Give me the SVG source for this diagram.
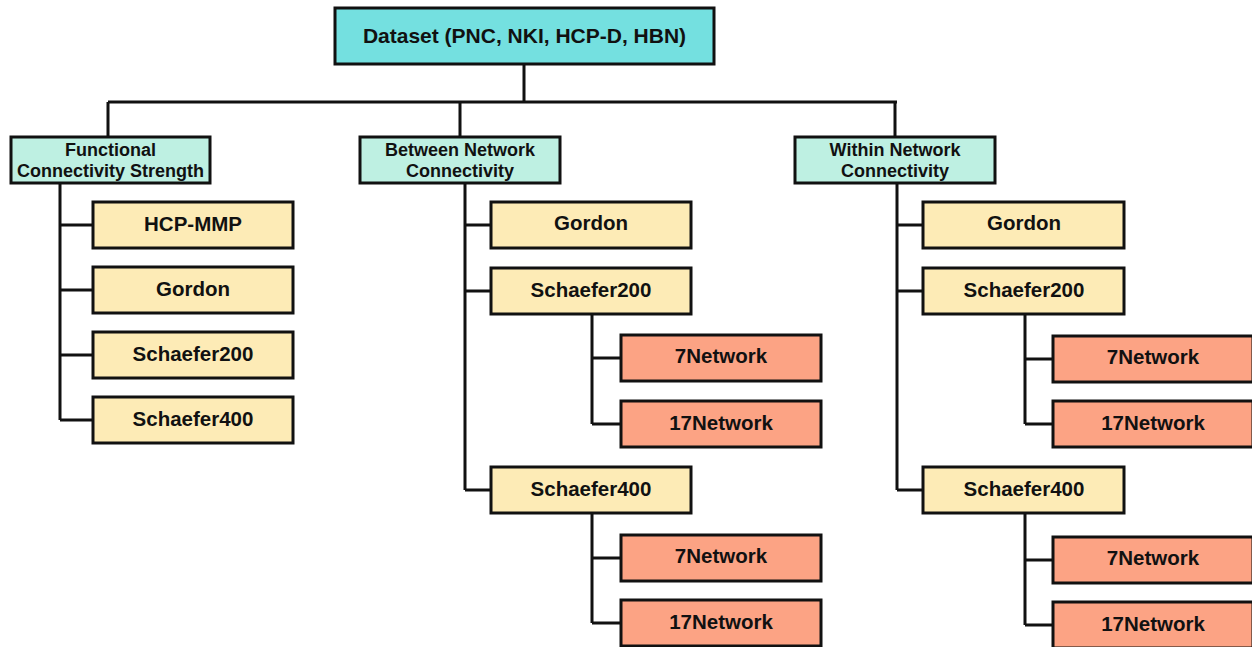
<svg xmlns="http://www.w3.org/2000/svg" width="1252" height="647" viewBox="0 0 1252 647">
<style>
.box{stroke:#111;stroke-width:3}
.top{fill:#74E0E0}
.l1{fill:#BEF0E2}
.l2{fill:#FDEBB6}
.l3{fill:#FCA384}
text{font-family:"Liberation Sans",Arial,sans-serif;font-weight:bold;fill:#111;text-anchor:middle}
.t0{font-size:21px}
.t1{font-size:18px}
.t2{font-size:20.5px}
.conn{fill:none;stroke:#111;stroke-width:3}
</style>
<rect width="1252" height="647" fill="#fff"/>
<g id="connectors" class="conn">
<path d="M524 64V102M108 102H897M108 102V137M460 102V137M895 102V137"/>
<path d="M60 183V420M60 225H93M60 290H93M60 355H93M60 420H93"/>
<path d="M465 183V490M465 225H491M465 291H491M465 490H491"/>
<path d="M592 314V424M592 358H621M592 424H621M592 514V623M592 558H621M592 623H621"/>
<path d="M897 183V490M897 225H923M897 291H923M897 490H923"/>
<path d="M1025 315V424M1025 359H1053M1025 424H1053M1025 514V625M1025 560H1053M1025 625H1053"/>
</g>
<g id="dataset"><rect class="box top" x="335" y="8" width="379" height="56"/><text class="t0" x="524.5" y="43">Dataset (PNC, NKI, HCP-D, HBN)</text></g>
<g id="fcs"><rect class="box l1" x="11" y="137" width="199" height="46"/><text class="t1" x="110.5" y="156">Functional</text><text class="t1" x="110.5" y="177">Connectivity Strength</text></g>
<g id="bnc"><rect class="box l1" x="360" y="137" width="200" height="46"/><text class="t1" x="460" y="156">Between Network</text><text class="t1" x="460" y="177">Connectivity</text></g>
<g id="wnc"><rect class="box l1" x="795" y="137" width="200" height="46"/><text class="t1" x="895" y="156">Within Network</text><text class="t1" x="895" y="177">Connectivity</text></g>
<g id="f-hcpmmp"><rect class="box l2" x="93" y="202" width="200" height="46"/><text class="t2" x="193" y="231">HCP-MMP</text></g>
<g id="f-gordon"><rect class="box l2" x="93" y="267" width="200" height="46"/><text class="t2" x="193" y="296">Gordon</text></g>
<g id="f-s200"><rect class="box l2" x="93" y="332" width="200" height="46"/><text class="t2" x="193" y="361">Schaefer200</text></g>
<g id="f-s400"><rect class="box l2" x="93" y="397" width="200" height="46"/><text class="t2" x="193" y="426">Schaefer400</text></g>
<g id="b-gordon"><rect class="box l2" x="491" y="202" width="200" height="46"/><text class="t2" x="591" y="230">Gordon</text></g>
<g id="b-s200"><rect class="box l2" x="491" y="268" width="200" height="46"/><text class="t2" x="591" y="297">Schaefer200</text></g>
<g id="b-s200-7"><rect class="box l3" x="621" y="335" width="200" height="46"/><text class="t2" x="721" y="363">7Network</text></g>
<g id="b-s200-17"><rect class="box l3" x="621" y="401" width="200" height="46"/><text class="t2" x="721" y="430">17Network</text></g>
<g id="b-s400"><rect class="box l2" x="491" y="467" width="200" height="46"/><text class="t2" x="591" y="496">Schaefer400</text></g>
<g id="b-s400-7"><rect class="box l3" x="621" y="535" width="200" height="46"/><text class="t2" x="721" y="563">7Network</text></g>
<g id="b-s400-17"><rect class="box l3" x="621" y="600" width="200" height="46"/><text class="t2" x="721" y="629">17Network</text></g>
<g id="w-gordon"><rect class="box l2" x="923" y="202" width="201" height="46"/><text class="t2" x="1024" y="230">Gordon</text></g>
<g id="w-s200"><rect class="box l2" x="923" y="268" width="201" height="46"/><text class="t2" x="1024" y="297">Schaefer200</text></g>
<g id="w-s200-7"><rect class="box l3" x="1053" y="336" width="200" height="46"/><text class="t2" x="1153" y="364">7Network</text></g>
<g id="w-s200-17"><rect class="box l3" x="1053" y="401" width="200" height="46"/><text class="t2" x="1153" y="430">17Network</text></g>
<g id="w-s400"><rect class="box l2" x="923" y="467" width="201" height="46"/><text class="t2" x="1024" y="496">Schaefer400</text></g>
<g id="w-s400-7"><rect class="box l3" x="1053" y="537" width="200" height="46"/><text class="t2" x="1153" y="565">7Network</text></g>
<g id="w-s400-17"><rect class="box l3" x="1053" y="602" width="200" height="46"/><text class="t2" x="1153" y="631">17Network</text></g>
</svg>
